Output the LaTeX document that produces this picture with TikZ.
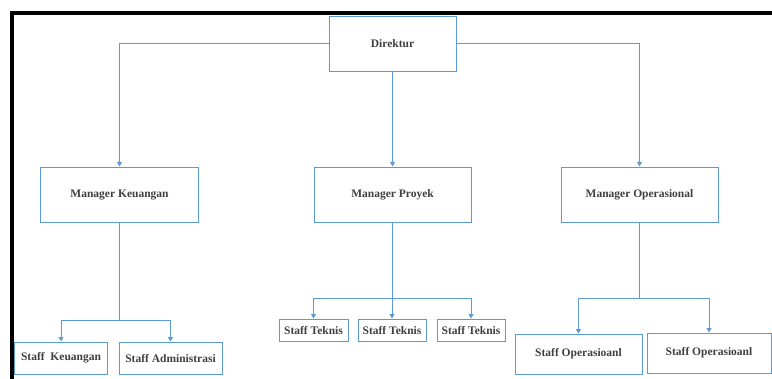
\documentclass[tikz,border=0pt]{standalone}
\usepackage{fontspec}
\setmainfont{Liberation Serif}
\usetikzlibrary{arrows.meta}
\definecolor{boxblue}{HTML}{5B9BD5}
\definecolor{labelgray}{HTML}{3F3F3F}
\tikzset{
  orgbox/.style={draw=boxblue, line width=1bp, inner sep=0pt,
    text=labelgray, font=\fontsize{11.5bp}{13bp}\selectfont\bfseries},
  link/.style={draw=boxblue, line width=0.9bp},
  linkarrow/.style={link, -{Triangle[width=5bp,length=4.5bp]}},
  frameline/.style={draw=black, line width=4bp}
}
\begin{document}
\begin{tikzpicture}[x=1bp, y=-1bp]
  \useasboundingbox (0,0) rectangle (772,378);
  % page frame along top and left
  \draw[frameline] (12,380) -- (12,13) -- (774,13);

  % top level
  \node[orgbox, minimum width=127bp, minimum height=55bp] (dir) at (392.5,43.5) {Direktur};

  % managers
  \node[orgbox, minimum width=157bp, minimum height=55bp] (mk) at (119.5,194.5) {Manager Keuangan};
  \node[orgbox, minimum width=157bp, minimum height=55bp] (mp) at (392.5,194.5) {Manager Proyek};
  \node[orgbox, minimum width=157bp, minimum height=55bp] (mo) at (639.5,194.5) {Manager Operasional};

  % staff under finance
  \node[orgbox, minimum width=92bp, minimum height=32bp] (sk) at (61,358) {Staff\ \ Keuangan};
  \node[orgbox, minimum width=103bp, minimum height=32bp] (sa) at (170.5,358) {Staff Administrasi};

  % staff under projects
  \node[orgbox, minimum width=69bp, minimum height=22bp] (st1) at (313.5,330) {Staff Teknis};
  \node[orgbox, minimum width=68bp, minimum height=22bp] (st2) at (392,330) {Staff Teknis};
  \node[orgbox, minimum width=68bp, minimum height=22bp] (st3) at (471,330) {Staff Teknis};

  % staff under operations
  \node[orgbox, minimum width=127bp, minimum height=40bp] (so1) at (578.5,354) {Staff Operasioanl};
  \node[orgbox, minimum width=124bp, minimum height=40bp] (so2) at (709,353) {Staff Operasioanl};

  % director to managers
  \draw[linkarrow] (dir.west) -| (mk.north);
  \draw[linkarrow] (dir.south) -- (mp.north);
  \draw[linkarrow] (dir.east) -| (mo.north);

  % branch points
  \coordinate (jk) at (119.5,320);
  \coordinate (jp) at (392.5,298);
  \coordinate (jo) at (639.5,298);

  \draw[link] (mk.south) -- (jk);
  \draw[linkarrow] (jk) -| (sk.north);
  \draw[linkarrow] (jk) -| (sa.north);

  \draw[link] (mp.south) -- (jp);
  \draw[linkarrow] (jp) -| (st1.north);
  \draw[linkarrow] (jp) -| (st2.north);
  \draw[linkarrow] (jp) -| (st3.north);

  \draw[link] (mo.south) -- (jo);
  \draw[linkarrow] (jo) -| (so1.north);
  \draw[linkarrow] (jo) -| (so2.north);
\end{tikzpicture}
\end{document}
